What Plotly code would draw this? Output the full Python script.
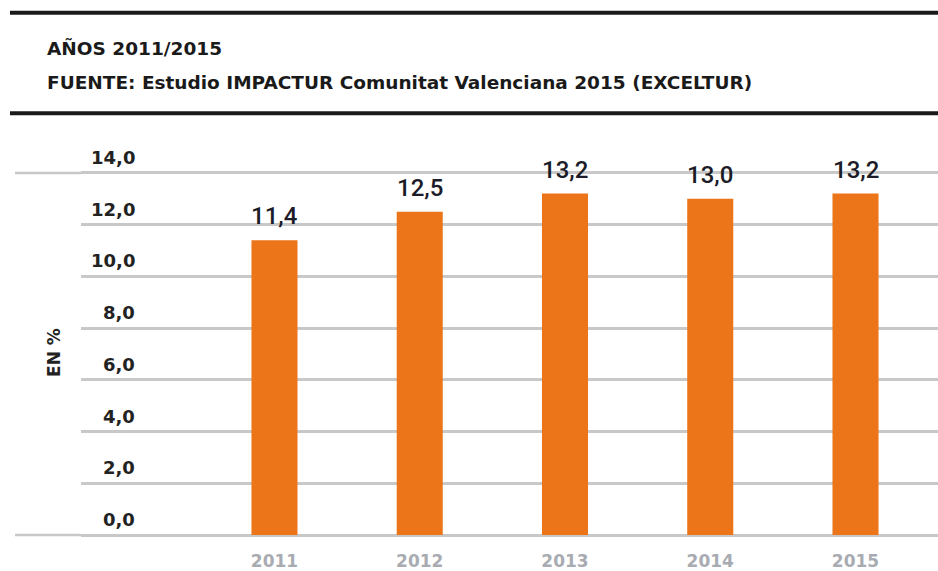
import plotly.graph_objects as go

years = ["2011", "2012", "2013", "2014", "2015"]
values = [11.4, 12.5, 13.2, 13.0, 13.2]
value_labels = ["11,4", "12,5", "13,2", "13,0", "13,2"]
y_ticks = [0, 2, 4, 6, 8, 10, 12, 14]
y_tick_labels = ["0,0", "2,0", "4,0", "6,0", "8,0", "10,0", "12,0", "14,0"]

W, H = 938, 571
ML, MR, MT, MB = 81, 0, 150, 26
PW = W - ML - MR
PH = H - MT - MB

BAR = "#EC7519"
GRID = "#C8C8C8"
BOLDF = "DejaVu Sans, sans-serif"
VALF = "Roboto, sans-serif"

fig = go.Figure(go.Bar(
    x=years, y=values, marker=dict(color=BAR, line=dict(width=0)),
    width=0.317, hoverinfo="skip"
))

annotations = []
for i, (v, t) in enumerate(zip(values, value_labels)):
    annotations.append(dict(x=i, y=v, xref="x", yref="y", text=t, showarrow=False,
                            yanchor="bottom", yshift=8,
                            font=dict(family=VALF, size=24, weight=500, color="#1c1c28")))
for v, t in zip(y_ticks, y_tick_labels):
    annotations.append(dict(x=(137 - ML) / PW, y=v, xref="paper", yref="y", text="<b>%s</b>" % t,
                            showarrow=False, xanchor="right", yanchor="bottom", yshift=3,
                            font=dict(family=BOLDF, size=18, color="#222222")))
annotations += [
    dict(x=(45 - ML) / PW, y=1 + (MT - 47) / PH, xref="paper", yref="paper",
         text="<b>AÑOS 2011/2015</b>", showarrow=False, xanchor="left", yanchor="middle",
         font=dict(family=BOLDF, size=18.5, color="#1a1a1a")),
    dict(x=(45 - ML) / PW, y=1 + (MT - 82) / PH, xref="paper", yref="paper",
         text="<b>FUENTE: Estudio IMPACTUR Comunitat Valenciana 2015 (EXCELTUR)</b>",
         showarrow=False, xanchor="left", yanchor="middle",
         font=dict(family=BOLDF, size=18.5, color="#1a1a1a")),
    dict(x=(54 - ML) / PW, y=7.04, xref="paper", yref="y", text="<b>EN %</b>", textangle=-90,
         showarrow=False, xanchor="center", yanchor="middle",
         font=dict(family=BOLDF, size=17, color="#222222")),
]

shapes = []
for v in (0, 14):
    shapes.append(dict(type="line", xref="paper", yref="y", x0=(15 - ML) / PW, x1=0.0,
                       y0=v, y1=v, line=dict(color=GRID, width=2.5), layer="below"))
for ypx in (12, 113):
    yp = 1 + (MT - ypx) / PH
    shapes.append(dict(type="line", xref="paper", yref="paper", x0=(10 - ML) / PW, x1=1.0,
                       y0=yp, y1=yp, line=dict(color="#1a1a1a", width=4)))

fig.update_layout(
    width=W, height=H, margin=dict(l=ML, r=MR, t=MT, b=MB),
    paper_bgcolor="white", plot_bgcolor="white", showlegend=False,
    xaxis=dict(type="category", range=[-1.332, 4.568], showgrid=False, zeroline=False,
               showline=False, ticks="", ticklabelstandoff=6,
               tickfont=dict(family=BOLDF, size=17, color="#A8ACB2"),
               tickprefix="<b>", ticksuffix="</b>", fixedrange=True),
    yaxis=dict(range=[-0.308, 14.885], tickvals=y_ticks, showticklabels=False,
               showgrid=True, gridcolor=GRID, gridwidth=2.5, zeroline=False,
               showline=False, fixedrange=True),
    annotations=annotations, shapes=shapes,
)

fig.write_html("out.html", config={"displayModeBar": False},
               post_script="document.body.style.margin='0';document.body.style.padding='0';")
